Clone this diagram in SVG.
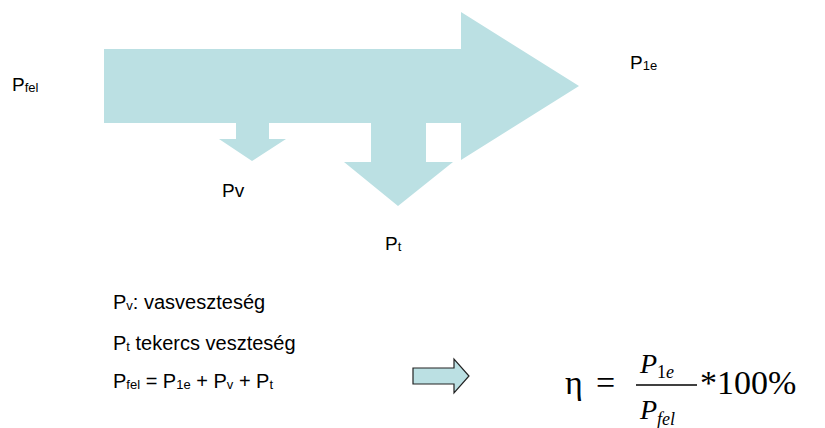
<svg xmlns="http://www.w3.org/2000/svg" width="825" height="428" viewBox="0 0 825 428">
<style>
.fill{fill:#BBE0E3;stroke:none}
.lbl{font-family:"Liberation Sans",Arial,sans-serif;font-size:19px;fill:#000}
.sub{font-size:13px}
.txt{font-family:"Liberation Sans",Arial,sans-serif;font-size:20px;fill:#000}
.sub2{font-size:13px}
.m{font-family:"Liberation Serif","Times New Roman",serif;fill:#000}
</style>
<rect width="825" height="428" fill="#fff"/>
<g id="flow">
<polygon class="fill" points="104,49 461,49 461,12 579,86 461,160 461,123 426,123 426,162 453,162 398,206 344,162 371,162 371,123 269,123 269,139 286,139 252,161 219,139 236,139 236,123 104,123"/>
</g>
<g id="labels">
<text class="lbl" x="12" y="91">P<tspan class="sub" dy="1">fel</tspan></text>
<text class="lbl" x="630" y="69">P<tspan class="sub" dy="1">1e</tspan></text>
<text class="lbl" x="222" y="197">Pv</text>
<text class="lbl" x="385" y="250">P<tspan class="sub" dy="1">t</tspan></text>
</g>
<g id="legend">
<text class="txt" x="113" y="309">P<tspan class="sub2" dy="1">v</tspan><tspan dy="-1">: vasveszteség</tspan></text>
<text class="txt" x="113" y="350">P<tspan class="sub2" dy="1">t</tspan><tspan dy="-1"> tekercs veszteség</tspan></text>
<text class="txt" x="113" y="388">P<tspan class="sub2" dy="1">fel</tspan><tspan dy="-1"> = P</tspan><tspan class="sub2" dy="1">1e</tspan><tspan dy="-1"> + P</tspan><tspan class="sub2" dy="1">v</tspan><tspan dy="-1"> + P</tspan><tspan class="sub2" dy="1">t</tspan></text>
</g>
<g id="small-arrow">
<polygon points="413,368 454,368 454,359 469,376 454,393 454,384 413,384" fill="#BBE0E3" stroke="#222" stroke-width="1.2"/>
</g>
<g id="formula">
<text class="m" x="565" y="394" font-size="34">η</text>
<text class="m" x="596" y="394" font-size="34">=</text>
<text class="m" x="640" y="373" font-size="28" font-style="italic">P<tspan font-size="18" font-style="normal" dy="5">1</tspan><tspan font-size="18">e</tspan></text>
<line x1="636" y1="385" x2="697" y2="385" stroke="#000" stroke-width="1.5"/>
<text class="m" x="640" y="419" font-size="28" font-style="italic">P<tspan font-size="18" dy="6">fel</tspan></text>
<text class="m" x="700" y="394" font-size="34">*100%</text>
</g>
</svg>
